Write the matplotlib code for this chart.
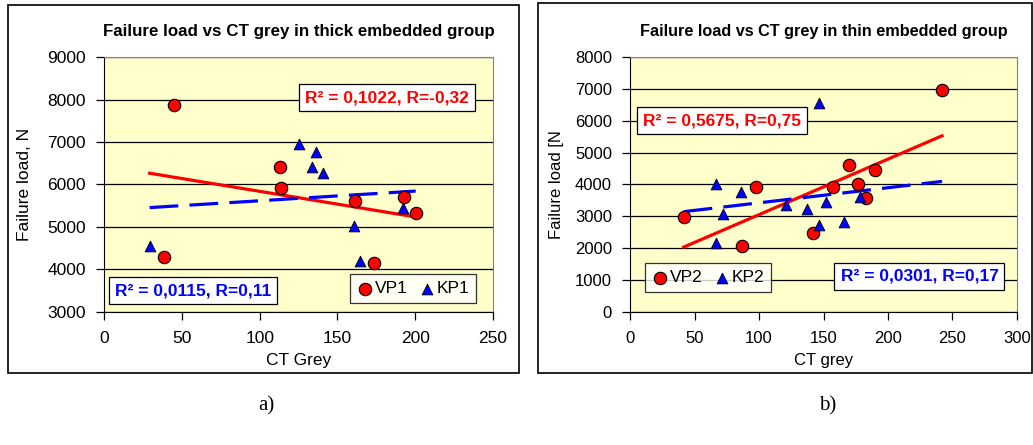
import numpy as np
import matplotlib
matplotlib.use('Agg')
import matplotlib.pyplot as plt
from matplotlib.patches import Rectangle

plt.rcParams['font.family'] = ['Liberation Sans', 'DejaVu Sans']

# thick embedded group
vp1_x = [45, 38.8, 113.3, 113.8, 161, 173.5, 192.8, 200.3]
vp1_y = [7870, 4290, 6420, 5910, 5610, 4150, 5700, 5330]
kp1_x = [29.3, 125.5, 136, 133.9, 140.5, 160.9, 164.3, 192.2]
kp1_y = [4550, 6950, 6760, 6400, 6260, 5020, 4200, 5440]

# thin embedded group
vp2_x = [41.6, 86.8, 97.9, 142.1, 157.1, 170, 177, 182.7, 189.6, 241.9]
vp2_y = [2980, 2080, 3920, 2470, 3930, 4620, 4020, 3570, 4460, 6970]
kp2_x = [66.4, 66.4, 71.8, 86, 121.2, 137.5, 146.2, 146.2, 151.9, 165.9, 178.3]
kp2_y = [4030, 2180, 3070, 3750, 3370, 3230, 6570, 2720, 3460, 2820, 3600]

titles = ['Failure load vs CT grey in thick embedded group',
          'Failure load vs CT grey in thin embedded group']
xlabels = ['CT Grey', 'CT grey']
ylabels = ['Failure load, N', 'Failure load [N']
eq_red = ['R\u00b2 = 0,1022, R=-0,32', 'R\u00b2 = 0,5675, R=0,75']
eq_blue = ['R\u00b2 = 0,0115, R=0,11', 'R\u00b2 = 0,0301, R=0,17']
panel = ['a)', 'b)']

fig = plt.figure(figsize=(10.33, 4.45), dpi=100)

# outer chart frames
fig.patches.append(Rectangle((0.0077, 0.1618), 0.4947, 0.827, transform=fig.transFigure,
                             fill=False, edgecolor='black', lw=1.2))
fig.patches.append(Rectangle((0.5208, 0.1618), 0.478, 0.8315, transform=fig.transFigure,
                             fill=False, edgecolor='black', lw=1.2))

ax1 = fig.add_axes([0.1007, 0.2989, 0.3766, 0.573])
ax2 = fig.add_axes([0.6099, 0.2989, 0.3746, 0.573])

def trend(ax, x, y, xr, **kw):
    k, b = np.polyfit(x, y, 1)
    xs = np.array(xr)
    ax.plot(xs, k * xs + b, **kw)

def draw(ax, i, vx, vy, kx, ky, xlim, ylim, yticks, xticks, red_pos, blue_pos, leg_kw):
    fs = [12.5, 12][i]
    ax.set_facecolor('#FFFFCC')
    xr = [min(min(vx), min(kx)), max(max(vx), max(kx))]
    trend(ax, vx, vy, xr, color='red', lw=2.3, zorder=3)
    trend(ax, kx, ky, xr, color='#0000FF', lw=2.3, dashes=(9, 3.5), zorder=3)
    ax.scatter(vx, vy, s=80, marker='o', facecolor='red', edgecolor='black', lw=0.8,
               zorder=4, label=['VP1', 'VP2'][i])
    ax.scatter(kx, ky, s=60, marker='^', facecolor='#0000FF', edgecolor='black', lw=0.6,
               zorder=4, label=['KP1', 'KP2'][i])
    ax.set_xlim(*xlim)
    ax.set_ylim(*ylim)
    ax.set_xticks(xticks)
    ax.set_yticks(yticks)
    ax.grid(axis='y', color='black', lw=0.9)
    ax.set_axisbelow(True)
    ax.tick_params(labelsize=fs, direction='out', length=6, width=0.9)
    ax.tick_params(axis='x', pad=8)
    ax.tick_params(axis='y', pad=7)
    ax.spines['top'].set_color('#808080')
    ax.spines['right'].set_color('#808080')
    ax.set_title(titles[i], fontsize=[12.2, 11.7][i], fontweight='bold', pad=15)
    ax.set_xlabel(xlabels[i], fontsize=fs, labelpad=5)
    ax.set_ylabel(ylabels[i], fontsize=fs, labelpad=[11, 8][i])
    box = dict(facecolor='white', edgecolor='black', lw=0.9, boxstyle='square,pad=0.35')
    ax.text(red_pos[0], red_pos[1], eq_red[i], transform=ax.transAxes, color='red',
            fontsize=12.5, fontweight='bold', ha='center', va='center', bbox=box, zorder=5)
    ax.text(blue_pos[0], blue_pos[1], eq_blue[i], transform=ax.transAxes, color='#0000FF',
            fontsize=12.5, fontweight='bold', ha='center', va='center', bbox=box, zorder=5)
    leg = ax.legend(ncol=2, fontsize=12.5, frameon=True, fancybox=False, handletextpad=0.05,
                    columnspacing=0.6, handlelength=1.0, borderpad=0.4, borderaxespad=0, **leg_kw)
    leg.get_frame().set_edgecolor('black')
    leg.get_frame().set_linewidth(0.9)
    leg.set_zorder(6)

draw(ax1, 0, vp1_x, vp1_y, kp1_x, kp1_y, (0, 250), (3000, 9000),
     range(3000, 9001, 1000), range(0, 251, 50), (0.7275, 0.841), (0.229, 0.084),
     dict(loc='lower right', bbox_to_anchor=(0.956, 0.035)))
draw(ax2, 1, vp2_x, vp2_y, kp2_x, kp2_y, (0, 300), (0, 8000),
     range(0, 8001, 1000), range(0, 301, 50), (0.2385, 0.75), (0.748, 0.14),
     dict(loc='lower left', bbox_to_anchor=(0.038, 0.077)))

fig.text(0.2575, 0.088, panel[0], fontsize=15, family='Liberation Serif', ha='center', va='center')
fig.text(0.8015, 0.088, panel[1], fontsize=15, family='Liberation Serif', ha='center', va='center')

fig.savefig('out.png', dpi=100)
